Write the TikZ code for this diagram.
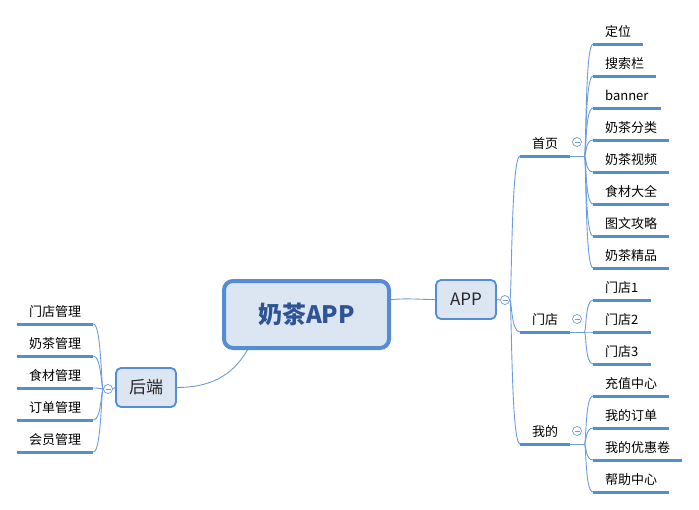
\documentclass[tikz,border=0pt]{standalone}
\usepackage{fontspec}
\setmainfont{Noto Sans CJK SC}
\usetikzlibrary{positioning,calc}
\definecolor{mmline}{RGB}{84,141,212}
\definecolor{mmthin}{RGB}{108,155,222}
\definecolor{mmfill}{RGB}{220,230,242}
\definecolor{mmtext}{RGB}{46,84,150}

\begin{document}
\begin{tikzpicture}[x=1pt,y=-1pt,
    central/.style={rectangle,rounded corners=9pt,draw=mmline,line width=4pt,fill=mmfill,minimum width=165pt,minimum height=67pt,font=\fontsize{24}{28}\selectfont\bfseries,text=mmtext},
    topic/.style={rectangle,rounded corners=5pt,draw=mmline,line width=1.8pt,fill=mmfill,minimum width=60pt,minimum height=39pt,font=\fontsize{17}{20}\selectfont,text=black!85},
    leaf/.style={inner xsep=12pt,inner ysep=7pt,text height=10pt,text depth=0pt,font=\fontsize{13}{15}\selectfont},
    uline/.style={draw=mmline,line width=3pt},
    link/.style={draw=mmthin,line width=0.9pt},
    fold/.style={circle,draw=mmthin,fill=white,line width=0.7pt,minimum size=9pt,inner sep=0pt,
      path picture={\draw[mmthin,line width=0.7pt] ([xshift=2pt]path picture bounding box.west) -- ([xshift=-2pt]path picture bounding box.east);}}]
    \useasboundingbox (0,0) rectangle (699,509);

    % Center and main topics
    \node[central] (milk) at (306.5,314.5) {奶茶APP};
    \node[topic] (app) at (466,299.5) {APP};
    \node[topic] (be) at (146,387.5) {后端};
    \draw[link] (milk.10) to[out=5,in=180] (app.west);
    \draw[link] (milk.211) to[out=240,in=0] (be.east);

    % APP side
    \node[fold] (app-c) at (505,300) {};
    \draw[link] (app.east) -- (app-c.west);
    \node[leaf,anchor=south west] (sy) at (520,156) {首页};
    \node[leaf,anchor=south west] (md) at (520,332) {门店};
    \node[leaf,anchor=south west] (wd) at (520,444) {我的};
    \foreach \b in {sy,md,wd} {
      \draw[link] (app-c.east) .. controls +(2,0) and +(-9,0) .. (\b.south west);
      \draw[uline] (\b.south west) -- (\b.south east);
      \draw[link] (\b.south east) -- ++(14,0) coordinate (\b-f);
    }
    \node[fold] (sy-c) at (577,142) {};
    \node[fold] (md-c) at (577,319) {};
    \node[fold] (wd-c) at (577,431) {};

    % Leaves
    \foreach \t/\y [count=\i] in {定位/44, 搜索栏/76, banner/108, 奶茶分类/140, 奶茶视频/172, 食材大全/204, 图文攻略/236, 奶茶精品/268} {
      \node[leaf,anchor=south west] (sy\i) at (593,\y) {\t};
      \draw[link] (sy-f) .. controls +(2,0) and +(-8,0) .. (sy\i.south west);
      \draw[uline] (sy\i.south west) -- (sy\i.south east);
    }
    \foreach \t/\y [count=\i] in {门店1/300, 门店2/332, 门店3/364} {
      \node[leaf,anchor=south west] (md\i) at (593,\y) {\t};
      \draw[link] (md-f) .. controls +(2,0) and +(-8,0) .. (md\i.south west);
      \draw[uline] (md\i.south west) -- (md\i.south east);
    }
    \foreach \t/\y [count=\i] in {充值中心/396, 我的订单/428, 我的优惠卷/460, 帮助中心/492} {
      \node[leaf,anchor=south west] (wd\i) at (593,\y) {\t};
      \draw[link] (wd-f) .. controls +(2,0) and +(-8,0) .. (wd\i.south west);
      \draw[uline] (wd\i.south west) -- (wd\i.south east);
    }

    % Backend side
    \node[fold] (be-c) at (108,389) {};
    \draw[link] (be.west) -- (be-c.east);
    \foreach \t/\y [count=\i] in {门店管理/324, 奶茶管理/356, 食材管理/388, 订单管理/420, 会员管理/452} {
      \node[leaf,anchor=south west] (hd\i) at (17,\y) {\t};
      \draw[link] (be-c.west) .. controls +(-2,0) and +(8,0) .. (hd\i.south east);
      \draw[uline] (hd\i.south west) -- (hd\i.south east);
    }
\end{tikzpicture}
\end{document}
